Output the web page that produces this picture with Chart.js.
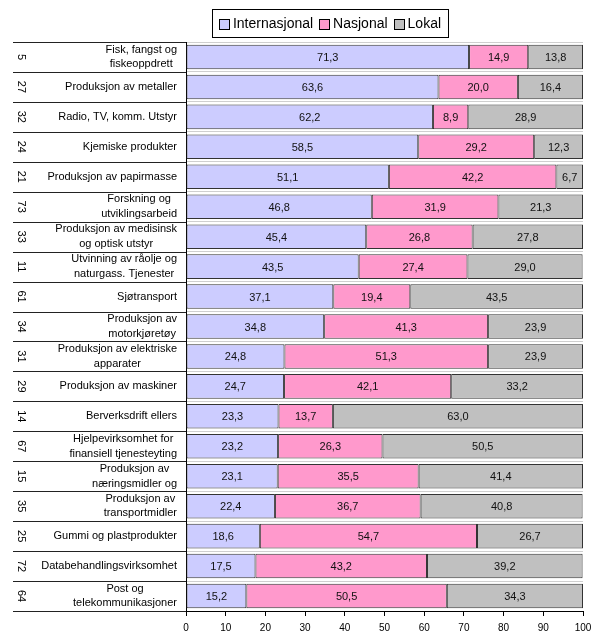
<!DOCTYPE html>
<html>
<head>
<meta charset="utf-8">
<script src="https://cdn.jsdelivr.net/npm/chart.js@4.4.1/dist/chart.umd.min.js"></script>
<style>
  body { margin: 0; background: #fff; }
  canvas { display: block; }
</style>
</head>
<body>
<canvas id="chart" width="601" height="633"></canvas>
<script>
const codes = ["5", "27", "32", "24", "21", "73", "33", "11", "61", "34", "31", "29", "14", "67", "15", "35", "25", "72", "64"];
const categories = [
  ["Fisk, fangst og", "fiskeoppdrett"],
  ["Produksjon av metaller"],
  ["Radio, TV, komm. Utstyr"],
  ["Kjemiske produkter"],
  ["Produksjon av papirmasse"],
  ["Forskning og", "utviklingsarbeid"],
  ["Produksjon av medisinsk", "og optisk utstyr"],
  ["Utvinning av råolje og", "naturgass. Tjenester"],
  ["Sjøtransport"],
  ["Produksjon av", "motorkjøretøy"],
  ["Produksjon av elektriske", "apparater"],
  ["Produksjon av maskiner"],
  ["Berverksdrift ellers"],
  ["Hjelpevirksomhet for", "finansiell tjenesteyting"],
  ["Produksjon av", "næringsmidler og"],
  ["Produksjon av", "transportmidler"],
  ["Gummi og plastprodukter"],
  ["Databehandlingsvirksomhet"],
  ["Post og", "telekommunikasjoner"]
];
const internasjonal = [71.3, 63.6, 62.2, 58.5, 51.1, 46.8, 45.4, 43.5, 37.1, 34.8, 24.8, 24.7, 23.3, 23.2, 23.1, 22.4, 18.6, 17.5, 15.2];
const nasjonal = [14.9, 20.0, 8.9, 29.2, 42.2, 31.9, 26.8, 27.4, 19.4, 41.3, 51.3, 42.1, 13.7, 26.3, 35.5, 36.7, 54.7, 43.2, 50.5];
const lokal = [13.8, 16.4, 28.9, 12.3, 6.7, 21.3, 27.8, 29.0, 43.5, 23.9, 23.9, 33.2, 63.0, 50.5, 41.4, 40.8, 26.7, 39.2, 34.3];
const xTicks = [0, 10, 20, 30, 40, 50, 60, 70, 80, 90, 100];

const FONT = "'Liberation Sans', Arial, sans-serif";

// codes + category text + divider lines to the left of the plot
const sideLabels = {
  id: "sideLabels",
  afterDraw(chart) {
    const ctx = chart.ctx;
    const y = chart.scales.y;
    const area = chart.chartArea;
    const n = categories.length;
    ctx.save();
    // dividers
    ctx.strokeStyle = "#222";
    ctx.lineWidth = 1;
    for (let i = 0; i <= n; i++) {
      let py;
      if (i === 0) py = area.top;
      else if (i === n) py = area.bottom;
      else py = (y.getPixelForValue(i - 1) + y.getPixelForValue(i)) / 2;
      py = Math.round(py) + 0.5;
      ctx.beginPath();
      ctx.moveTo(13, py);
      ctx.lineTo(area.left, py);
      ctx.stroke();
    }
    ctx.fillStyle = "#000";
    ctx.font = "11px " + FONT;
    ctx.textBaseline = "middle";
    categories.forEach((lines, i) => {
      const cy = y.getPixelForValue(i);
      // rotated code
      ctx.save();
      ctx.translate(21, cy);
      ctx.rotate(Math.PI / 2);
      ctx.textAlign = "center";
      ctx.fillText(codes[i], 0, 0);
      ctx.restore();
      // label block, right aligned, lines centred within block
      const w = Math.max(...lines.map(l => ctx.measureText(l).width));
      const cx = 177 - w / 2;
      const lh = 14.5;
      ctx.textAlign = "center";
      lines.forEach((l, j) => {
        ctx.fillText(l, cx, cy + (j - (lines.length - 1) / 2) * lh);
      });
    });
    ctx.restore();
  }
};

// values inside the bar segments
const valueLabels = {
  id: "valueLabels",
  afterDatasetsDraw(chart) {
    const ctx = chart.ctx;
    ctx.save();
    ctx.font = "11px " + FONT;
    ctx.fillStyle = "#111";
    ctx.textAlign = "center";
    ctx.textBaseline = "middle";
    chart.data.datasets.forEach((ds, di) => {
      chart.getDatasetMeta(di).data.forEach((bar, i) => {
        const v = ds.data[i];
        ctx.fillText(v.toFixed(1).replace(".", ","), (bar.x + bar.base) / 2, bar.y + 1);
      });
    });
    ctx.restore();
  }
};

// boxed legend at the top
const boxLegend = {
  id: "boxLegend",
  afterDraw(chart) {
    const ctx = chart.ctx;
    const ds = chart.data.datasets;
    ctx.save();
    ctx.font = "14px " + FONT;
    ctx.textBaseline = "middle";
    ctx.textAlign = "left";
    const box = 10, gap = 4, itemGap = 6, pad = 7;
    const widths = ds.map(d => box + gap + ctx.measureText(d.label).width);
    const total = widths.reduce((a, b) => a + b, 0) + itemGap * (ds.length - 1) + pad * 2;
    const left = 330 - total / 2;
    const top = 9, h = 28;
    ctx.strokeStyle = "#000";
    ctx.lineWidth = 1;
    ctx.strokeRect(Math.round(left) + 0.5, top + 0.5, Math.round(total), h);
    let x = left + pad;
    const cy = top + h / 2 + 1;
    ds.forEach((d, i) => {
      ctx.fillStyle = d.backgroundColor;
      ctx.fillRect(Math.round(x) + 0.5, Math.round(cy - box / 2) + 0.5, box, box);
      ctx.strokeStyle = "#000";
      ctx.strokeRect(Math.round(x) + 0.5, Math.round(cy - box / 2) + 0.5, box, box);
      ctx.fillStyle = "#000";
      ctx.fillText(d.label, x + box + gap, cy);
      x += widths[i] + itemGap;
    });
    ctx.restore();
  }
};

new Chart(document.getElementById("chart"), {
  type: "bar",
  data: {
    labels: categories,
    datasets: [
      { label: "Internasjonal", data: internasjonal, backgroundColor: "#CCCCFF" },
      { label: "Nasjonal", data: nasjonal, backgroundColor: "#FF99CC" },
      { label: "Lokal", data: lokal, backgroundColor: "#C0C0C0" }
    ].map(d => Object.assign(d, { borderColor: "#333", borderWidth: 1, borderSkipped: false, barPercentage: 0.82, categoryPercentage: 1 }))
  },
  options: {
    indexAxis: "y",
    responsive: false,
    animation: false,
    layout: { padding: { top: 42, right: 18, left: 0, bottom: 0 } },
    plugins: { legend: { display: false }, tooltip: { enabled: false } },
    scales: {
      x: {
        stacked: true,
        min: 0,
        max: 100,
        afterBuildTicks: s => { s.ticks = xTicks.map(v => ({ value: v })); },
        afterFit: s => { s.height = 22; },
        ticks: { color: "#000", font: { size: 10, family: FONT }, padding: 6, maxRotation: 0 },
        grid: { drawOnChartArea: false, drawTicks: true, tickLength: 5, color: "#000" },
        border: { color: "#000" }
      },
      y: {
        stacked: true,
        afterFit: s => { s.width = 186; },
        ticks: { display: false },
        grid: { color: "#cfcfcf", drawTicks: false },
        border: { color: "#000" }
      }
    }
  },
  plugins: [sideLabels, valueLabels, boxLegend]
});
</script>
</body>
</html>
